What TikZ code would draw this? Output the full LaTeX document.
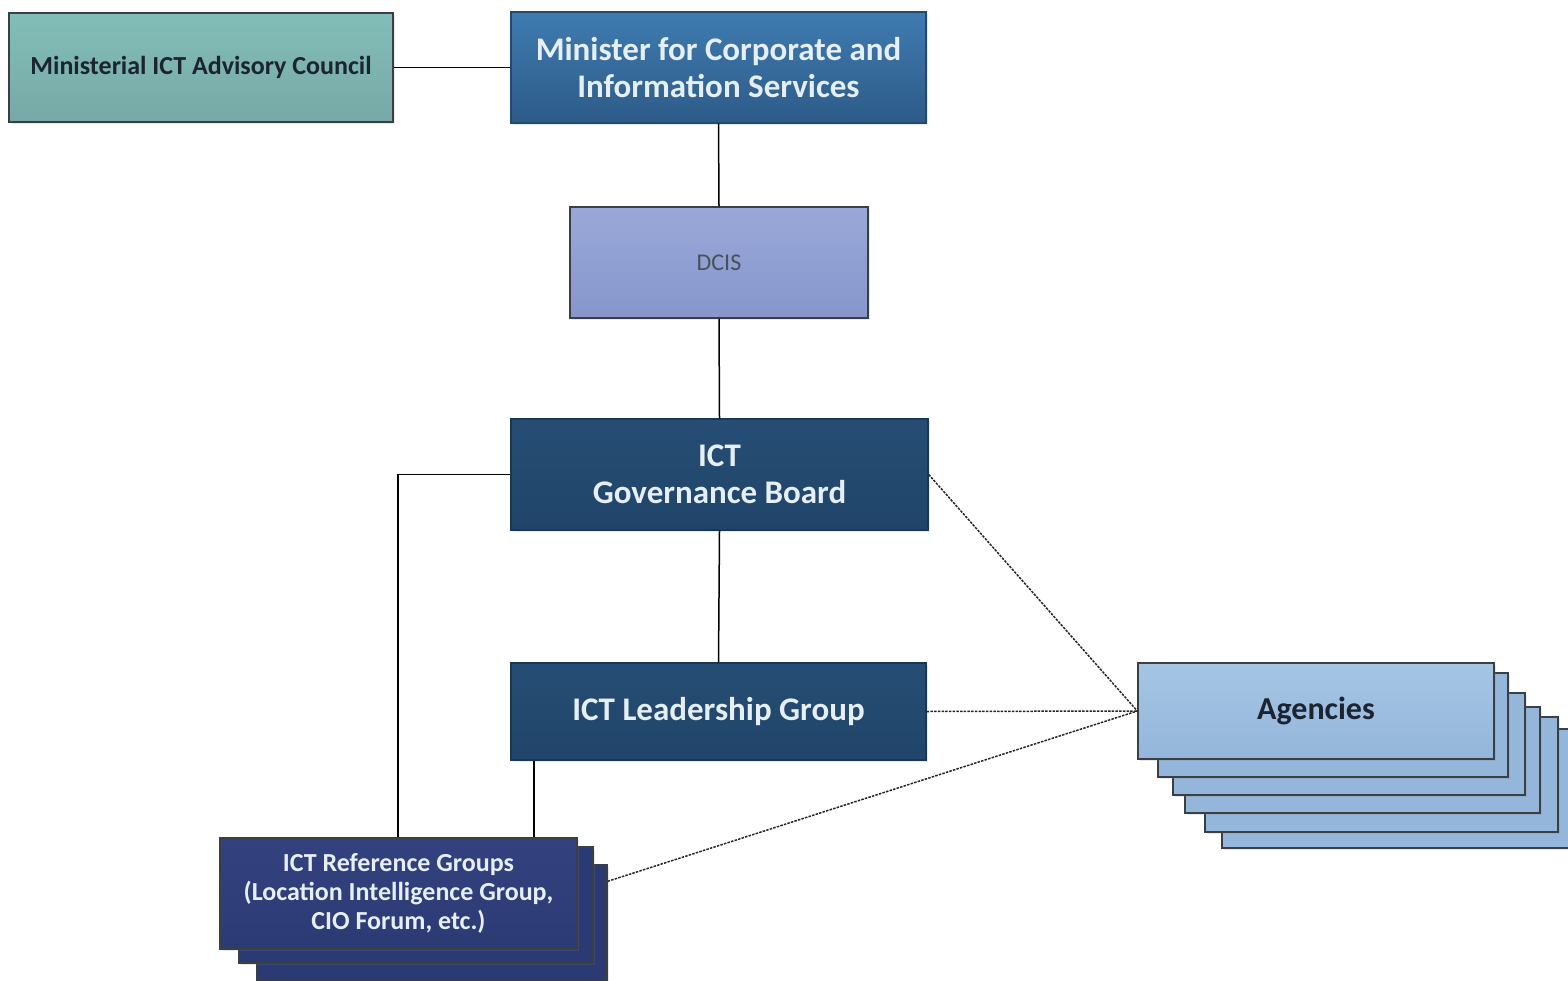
\documentclass[tikz,border=0pt]{standalone}
\usepackage{fontspec}
\setmainfont{Carlito}
\usetikzlibrary{shadows}
\definecolor{tealA}{HTML}{82BDB8}
\definecolor{tealB}{HTML}{77A9A7}
\definecolor{minA}{HTML}{3F7BB0}
\definecolor{minB}{HTML}{2D5B88}
\definecolor{dcisA}{HTML}{9AA8D8}
\definecolor{dcisB}{HTML}{8696CC}
\definecolor{navyA}{HTML}{264D74}
\definecolor{navyB}{HTML}{21456A}
\definecolor{refA}{HTML}{33427F}
\definecolor{refB}{HTML}{2C3A74}
\definecolor{agA}{HTML}{A6C5E5}
\definecolor{agB}{HTML}{94B6DA}
\definecolor{edge}{HTML}{3A3F44}
\definecolor{lighttext}{HTML}{E6EEF6}
\definecolor{darktext}{HTML}{1B2430}
\tikzset{
  box/.style={draw=edge, line width=1.4pt, inner sep=0pt, align=center,
    drop shadow={shadow xshift=2pt, shadow yshift=-2pt, opacity=0.18}},
  conn/.style={draw=black, line width=1.5pt},
  dotconn/.style={draw=black!85, line width=1.5pt, dash pattern=on 2.5pt off 1.2pt},
}
\begin{document}
\begin{tikzpicture}[x=1pt,y=-1pt]
\useasboundingbox (0,0) rectangle (1568,981);
% Advisory council
\node[box, top color=tealA, bottom color=tealB, minimum width=384pt, minimum height=109pt,
  text=darktext, font=\fontsize{26}{30}\selectfont\bfseries] (adv) at (201,67.5) {Ministerial ICT Advisory Council};
% Minister
\node[box, draw=minB!80!black, top color=minA, bottom color=minB, minimum width=415pt, minimum height=111pt,
  text=lighttext, font=\fontsize{33}{37}\selectfont\bfseries] (min) at (718.5,67.5) {Minister for Corporate and\\Information Services};
% DCIS
\node[box, top color=dcisA, bottom color=dcisB, minimum width=298pt, minimum height=111pt,
  text=darktext!80, font=\fontsize{24}{28}\selectfont] (dcis) at (719,262.5) {DCIS};
% Governance board
\node[box, draw=navyB!80!black, top color=navyA, bottom color=navyB, minimum width=417pt, minimum height=111pt,
  text=lighttext, font=\fontsize{33}{37}\selectfont\bfseries] (gb) at (719.5,474.5) {ICT\\Governance Board};
% Leadership group
\node[box, draw=navyB!80!black, top color=navyA, bottom color=navyB, minimum width=415pt, minimum height=97pt,
  text=lighttext, font=\fontsize{33}{37}\selectfont\bfseries] (lg) at (718.5,711.5) {ICT Leadership Group};
% Reference groups stack
\node[box, draw=edge, fill=refB, minimum width=350pt, minimum height=116pt] (ref3) at (432,923) {};
\node[box, draw=edge, fill=refB, minimum width=354pt, minimum height=116pt] (ref2) at (416,905) {};
\node[box, draw=edge, top color=refA, bottom color=refB, minimum width=357pt, minimum height=111pt,
  text=lighttext, font=\fontsize{26}{29}\selectfont\bfseries] (ref) at (398.5,893.5) {ICT Reference Groups\\(Location Intelligence Group,\\CIO Forum, etc.)};
% Agencies stack
\node[box, fill=agB, minimum width=360pt, minimum height=119pt] (ag6) at (1402,788.5) {};
\node[box, fill=agB, minimum width=353pt, minimum height=115pt] (ag5) at (1381.5,774.5) {};
\node[box, fill=agB, minimum width=355pt, minimum height=106pt] (ag4) at (1362.5,760) {};
\node[box, fill=agB, minimum width=352pt, minimum height=102pt] (ag3) at (1349,744) {};
\node[box, fill=agB, minimum width=350pt, minimum height=104pt] (ag2) at (1333,725) {};
\node[box, top color=agA, bottom color=agB, minimum width=356pt, minimum height=96pt,
  text=darktext, font=\fontsize{32}{36}\selectfont\bfseries] (ag) at (1316,711) {Agencies};
% Connectors
\draw[conn] (adv.east) -- (min.west |- adv.east);
\draw[conn] (min.south) -- (dcis.north);
\draw[conn] (dcis.south) -- (gb.north);
\draw[conn] (gb.south) -- (lg.north);
\coordinate (gbleft) at (398,474.5);
\draw[conn] (gb.west) -- (gbleft) -- (gbleft |- ref.north);
\coordinate (lgdrop) at (534,711.5);
\draw[conn] (lgdrop |- lg.south) -- (lgdrop |- ref.north);
\coordinate (refout) at ([yshift=-17pt]ref3.north east);
\draw[dotconn] (gb.east) -- (ag.west);
\draw[dotconn] (lg.east) -- (ag.west);
\draw[dotconn] (refout) -- (ag.west);
\end{tikzpicture}
\end{document}
